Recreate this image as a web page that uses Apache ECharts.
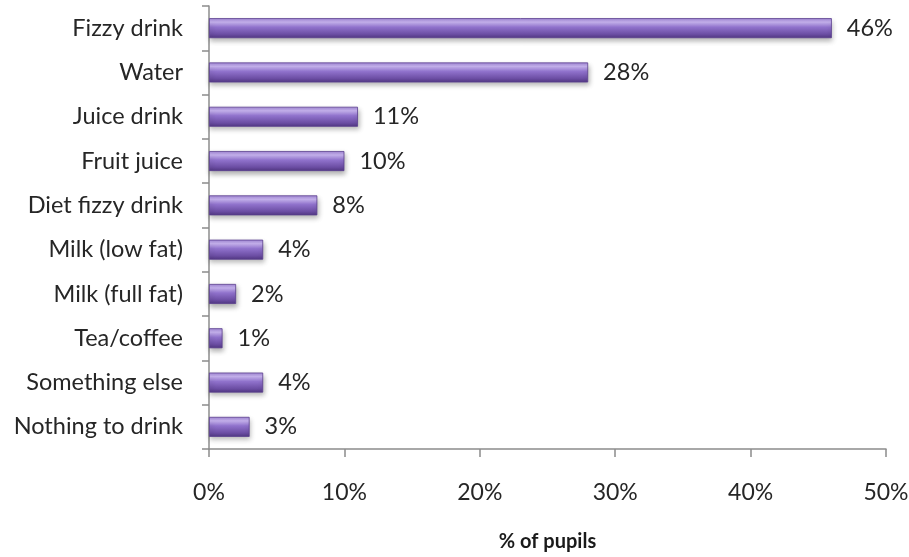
<!DOCTYPE html>
<html><head><meta charset="utf-8">
<script src="https://cdn.jsdelivr.net/npm/echarts@6/dist/echarts.min.js"></script>
<style>html,body{margin:0;padding:0;background:#fff}#c{width:909px;height:557px}</style>
</head><body><div id="c"></div>
<script>
const categories = ["Fizzy drink","Water","Juice drink","Fruit juice","Diet fizzy drink","Milk (low fat)","Milk (full fat)","Tea/coffee","Something else","Nothing to drink"];
const values = [46,28,11,10,8,4,2,1,4,3];
const xTicks = [0,10,20,30,40,50];
const FONT = 'Lato, "Open Sans", sans-serif';
const chart = echarts.init(document.getElementById('c'));
chart.setOption({
  backgroundColor:'#fff',
  animation:false,
  grid:{left:209,right:23,top:6,bottom:108,containLabel:false,outerBoundsMode:'none'},
  xAxis:{type:'value',min:xTicks[0],max:xTicks[xTicks.length-1],interval:10,
    name:'% of pupils',nameLocation:'middle',nameGap:83,
    nameTextStyle:{fontFamily:FONT,fontWeight:'bold',fontSize:20,color:'#1a1a1a'},
    axisLine:{show:true,lineStyle:{color:'#8c8c8c',width:1.5}},
    axisTick:{show:true,length:8,lineStyle:{color:'#8c8c8c',width:1.5}},
    splitLine:{show:false},
    axisLabel:{margin:32,fontFamily:FONT,fontSize:23,color:'#262626',formatter:v=>v+'%'}},
  yAxis:{type:'category',data:categories,inverse:true,
    axisLine:{show:true,lineStyle:{color:'#8c8c8c',width:1.5}},
    axisTick:{show:true,length:7,lineStyle:{color:'#8c8c8c',width:1.5}},
    axisLabel:{margin:26,fontFamily:FONT,fontSize:23.5,color:'#262626'}},
  series:[{type:'bar',data:values,barWidth:20,
    itemStyle:{
      color:new echarts.graphic.LinearGradient(0,0,0,1,[
        {offset:0,color:'#9f84d4'},{offset:0.2,color:'#c9b5f2'},{offset:0.45,color:'#9072cc'},
        {offset:0.8,color:'#6c4ea4'},{offset:1,color:'#513782'}]),
      borderColor:'#5b3f8e',borderWidth:0.8,
      shadowColor:'rgba(0,0,0,0.3)',shadowBlur:5,shadowOffsetY:3,shadowOffsetX:1},
    label:{show:true,position:'right',distance:15,fontFamily:FONT,fontSize:23.5,color:'#262626',formatter:p=>p.value+'%'}}]
});
</script></body></html>
